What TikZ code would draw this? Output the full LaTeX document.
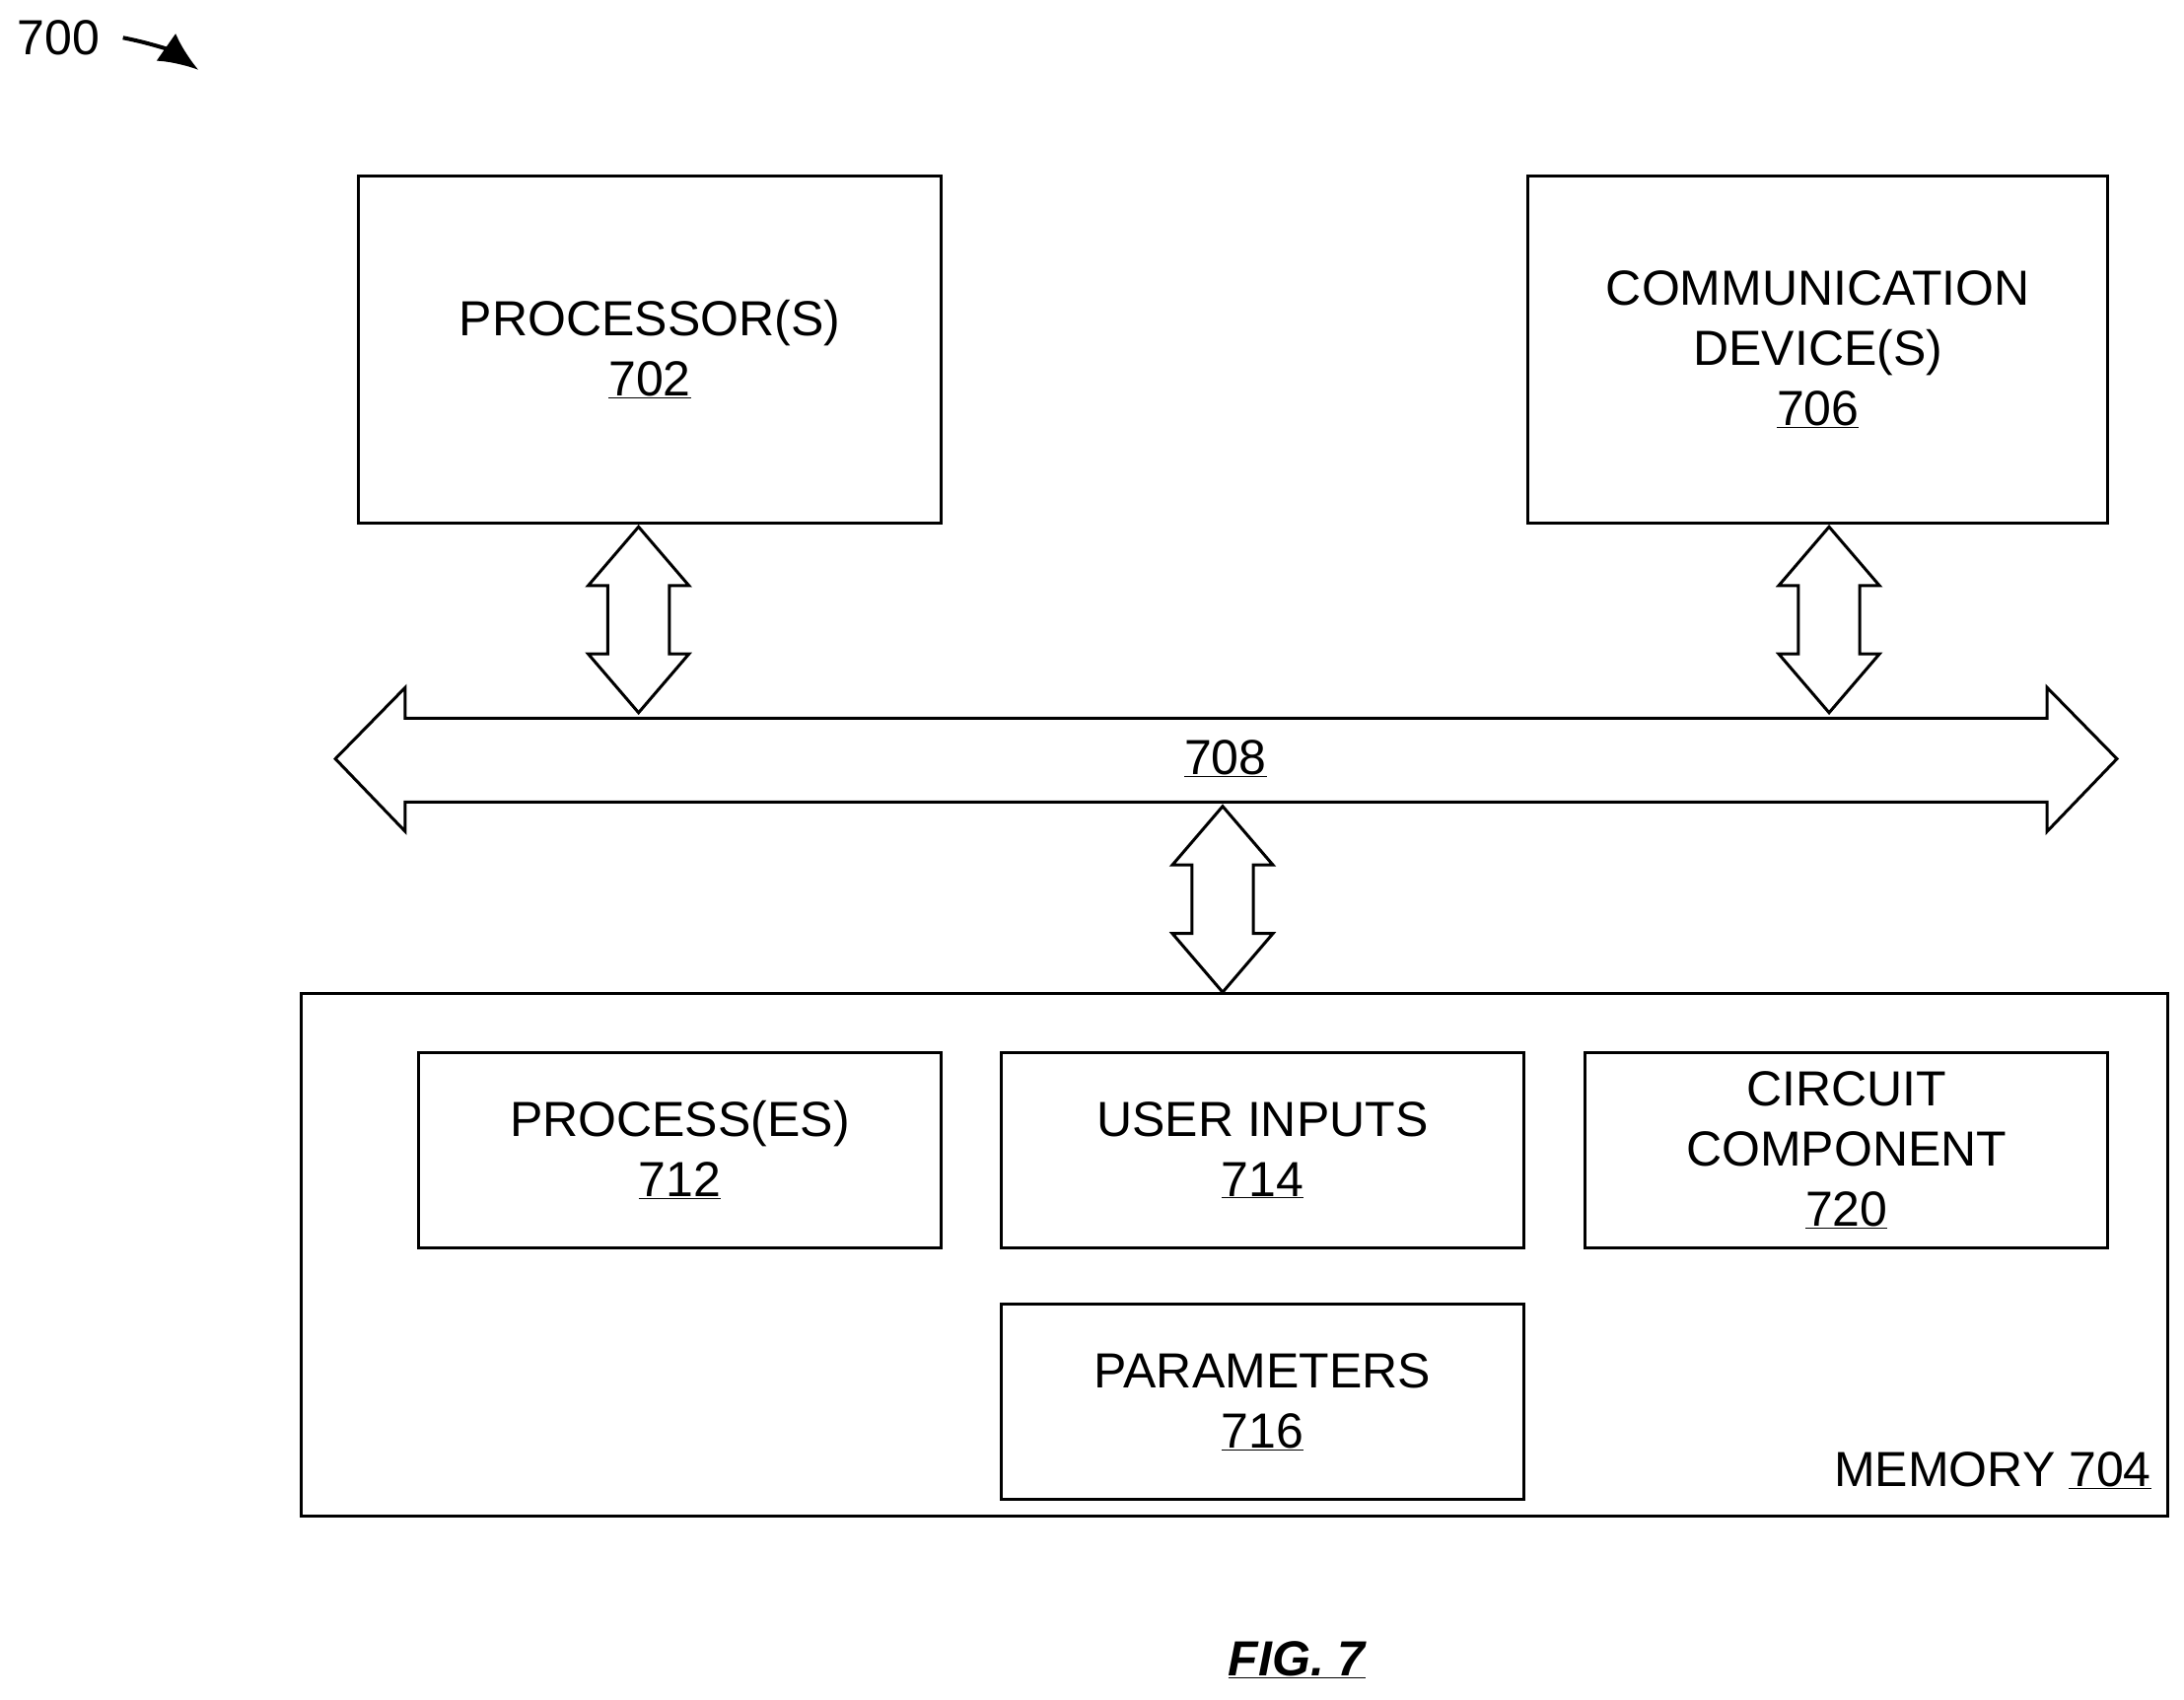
\documentclass[tikz,border=0pt]{standalone}
\usepackage{fontspec}
\setmainfont{Liberation Sans}
\usetikzlibrary{arrows.meta}
\tikzset{
  box/.style={draw, line width=3pt, align=center, font=\fontsize{50}{61}\selectfont},
  lbl/.style={font=\fontsize{50}{61}\selectfont},
  bus/.style={draw, line width=3pt, fill=white},
}
% vertical double arrow: x, top y, bottom y
\newcommand{\vdarrow}[3]{%
  \draw[bus] (#1,#2) -- (#1+36,#2+42) -- (#1+22,#2+42) -- (#1+22,#3-42) -- (#1+36,#3-42)
    -- (#1,#3) -- (#1-36,#3-42) -- (#1-22,#3-42) -- (#1-22,#2+42) -- (#1-36,#2+42) -- cycle;}
\begin{document}
\begin{tikzpicture}[x=1.417pt, y=-1.417pt]
    \useasboundingbox (0,0) rectangle (1563,1216);

    \node[lbl] (fig) at (42,27) {700};
    \draw[line width=4pt, -{Latex[length=40pt, width=34pt]}] (88,27) to[bend left=12] (142,50);

    \node[box, minimum width=417*1.417pt, minimum height=248*1.417pt] (proc) at (465,250) {PROCESSOR(S)\\\underline{702}};
    \node[box, minimum width=415*1.417pt, minimum height=248*1.417pt] (comm) at (1301,250) {COMMUNICATION\\DEVICE(S)\\\underline{706}};

    % bus 708
    \draw[bus] (240,543) -- (290,492) -- (290,514) -- (1465,514) -- (1465,492) -- (1515,543)
      -- (1465,595) -- (1465,574) -- (290,574) -- (290,595) -- cycle;
    \node[lbl] (bus) at (877,543) {\underline{708}};

    \vdarrow{457}{377}{510}
    \vdarrow{1309}{377}{510}
    \vdarrow{875}{577}{710}

    \node[box, minimum width=1336*1.417pt, minimum height=374*1.417pt] (mem) at (883.5,898) {};
    \node[lbl, anchor=east] (memlbl) at (1542,1052) {MEMORY \underline{704}};

    \node[box, minimum width=374*1.417pt, minimum height=140*1.417pt] (pr) at (486.5,823) {PROCESS(ES)\\\underline{712}};
    \node[box, minimum width=374*1.417pt, minimum height=140*1.417pt] (ui) at (903.5,823) {USER INPUTS\\\underline{714}};
    \node[box, minimum width=374*1.417pt, minimum height=140*1.417pt] (cc) at (1321.5,823) {CIRCUIT\\COMPONENT\\\underline{720}};
    \node[box, minimum width=374*1.417pt, minimum height=140*1.417pt] (par) at (903.5,1003) {PARAMETERS\\\underline{716}};

    \node[lbl, font=\fontsize{50}{61}\selectfont\bfseries\itshape] (cap) at (928,1188) {\underline{FIG. 7}};
\end{tikzpicture}
\end{document}
